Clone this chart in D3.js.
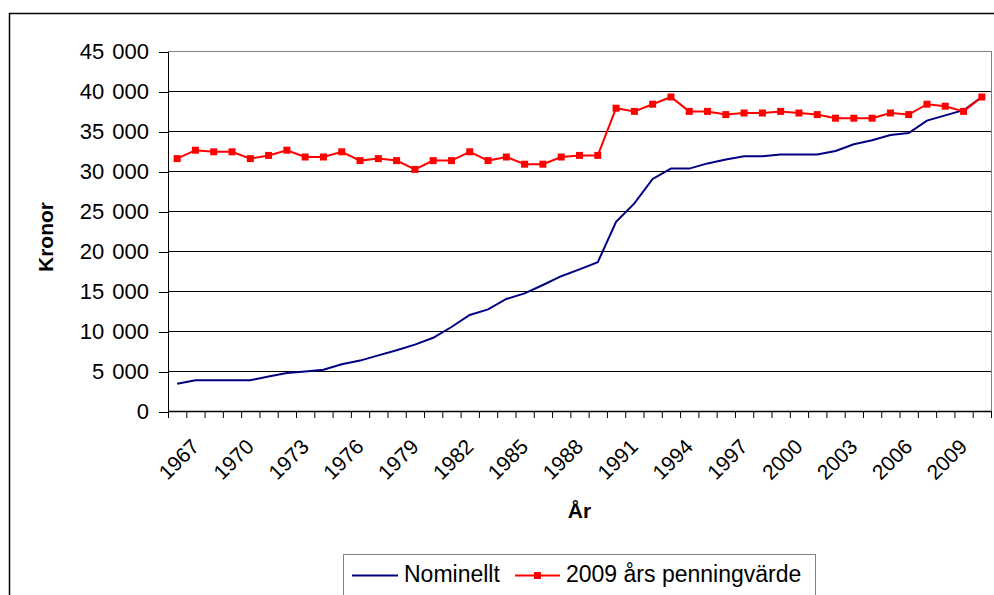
<!DOCTYPE html>
<html>
<head>
<meta charset="utf-8">
<script src="https://cdn.jsdelivr.net/npm/d3@7"></script>
<style>
  body { margin: 0; background: #fff; }
  text { font-family: "Liberation Sans", Arial, sans-serif; }
</style>
</head>
<body>
<script>
const years = d3.range(1966, 2011)
const nominellt = [3400, 3850, 3850, 3850, 3850, 4300, 4750, 4950, 5150, 5850,
  6300, 6950, 7600, 8300, 9150, 10500, 12000, 12700, 14000, 14700,
  15750, 16850, 17700, 18600, 23650, 25950, 29000, 30300, 30300, 30950,
  31450, 31850, 31850, 32050, 32050, 32050, 32500, 33350, 33850, 34500,
  34750, 36300, 36950, 37600, 39250]
const penningvarde = [31550, 32600, 32400, 32400, 31550, 31950, 32600, 31750, 31750, 32400,
  31300, 31550, 31300, 30200, 31300, 31300, 32400, 31300, 31750, 30850,
  30850, 31750, 31950, 31950, 37850, 37450, 38350, 39250, 37450, 37450,
  37050, 37250, 37250, 37450, 37250, 37050, 36600, 36600, 36600, 37250,
  37050, 38350, 38100, 37450, 39250]
const yTicks = d3.range(0, 45001, 5000)
const labelYears = years.filter(y => (y - 1967) % 3 === 0)
const seriesNames = ["Nominellt", "2009 års penningvärde"]

const svgWidth = 994
const svgHeight = 595
const plot = { left: 168, right: 991, top: 51, bottom: 411 }

const svg = d3.select("body").append("svg")
  .attr("width", svgWidth)
  .attr("height", svgHeight)

// outer chart frame
svg.append("rect")
  .attr("x", 9.5).attr("y", 13.5)
  .attr("width", svgWidth).attr("height", svgHeight)
  .attr("fill", "none").attr("stroke", "#000").attr("stroke-width", 1.5)

const x = d3.scaleBand().domain(years).range([plot.left, plot.right])
const xi = d3.scaleLinear().domain([0, years.length]).range([plot.left, plot.right])
const y = d3.scaleLinear().domain([0, 45000]).range([plot.bottom, plot.top])
const cx = d => x(d) + x.bandwidth() / 2

const sv = d3.formatLocale({ decimal: ",", thousands: " ", grouping: [3], currency: ["", ""] })
const fmt = sv.format(",d")

// gridlines
svg.append("g").selectAll("line")
  .data(yTicks.slice(1))
  .enter().append("line")
  .attr("x1", plot.left).attr("x2", plot.right)
  .attr("y1", d => y(d) + 0.5).attr("y2", d => y(d) + 0.5)
  .attr("stroke", d => d === 45000 ? "#808080" : "#000")
  .attr("stroke-width", 1)
  .attr("shape-rendering", "crispEdges")

// right frame of plot area
svg.append("line")
  .attr("x1", plot.right + 0.5).attr("x2", plot.right + 0.5)
  .attr("y1", plot.top).attr("y2", plot.bottom)
  .attr("stroke", "#808080")
  .attr("shape-rendering", "crispEdges")

// y axis
const yAxis = svg.append("g")
  .attr("transform", `translate(${plot.left},0.5)`)
  .call(d3.axisLeft(y).tickValues(yTicks).tickFormat(fmt).tickSize(9).tickPadding(10))
yAxis.select(".domain").attr("stroke", "#000")
yAxis.selectAll("line, path").attr("shape-rendering", "crispEdges")
yAxis.selectAll("text")
  .attr("font-size", 22)
  .attr("fill", "#000")
  .style("word-spacing", "2px")
  .style("font-family", "'Liberation Sans', Arial, sans-serif")

// x axis ticks at category boundaries
const xTickG = svg.append("g")
  .attr("transform", `translate(0,${plot.bottom})`)
  .call(d3.axisBottom(xi).tickValues(d3.range(0, years.length + 1)).tickFormat("").tickSize(7).tickSizeOuter(0))
xTickG.select(".domain").attr("stroke", "#000").attr("stroke-width", 1.5)

// x labels
const xLab = svg.append("g")
  .attr("transform", `translate(0,${plot.bottom})`)
  .call(d3.axisBottom(x).tickValues(labelYears).tickSize(0))
xLab.select(".domain").remove()
xLab.selectAll("text")
  .attr("font-size", 21)
  .attr("fill", "#000")
  .attr("text-anchor", "end")
  .attr("dy", null)
  .attr("y", 0)
  .attr("transform", "translate(5,37) rotate(-45)")
  .style("font-family", "'Liberation Sans', Arial, sans-serif")

// axis titles
svg.append("text")
  .attr("x", (plot.left + plot.right) / 2)
  .attr("y", 518)
  .attr("text-anchor", "middle")
  .attr("font-size", 21)
  .attr("font-weight", "bold")
  .text("År")

svg.append("text")
  .attr("transform", `translate(53,237) rotate(-90)`)
  .attr("text-anchor", "middle")
  .attr("font-size", 21)
  .attr("font-weight", "bold")
  .text("Kronor")

// lines
const line = d3.line()
  .x((d, i) => cx(years[i]))
  .y(d => y(d))

svg.append("path")
  .attr("d", line(nominellt))
  .attr("fill", "none")
  .attr("stroke", "#000080")
  .attr("stroke-width", 2)

svg.append("path")
  .attr("d", line(penningvarde))
  .attr("fill", "none")
  .attr("stroke", "#FF0000")
  .attr("stroke-width", 2)

svg.append("g").selectAll("rect")
  .data(penningvarde)
  .enter().append("rect")
  .attr("x", (d, i) => cx(years[i]) - 3.5)
  .attr("y", d => y(d) - 3.5)
  .attr("width", 7).attr("height", 7)
  .attr("fill", "#FF0000")

// legend
const legend = svg.append("g")
legend.append("rect")
  .attr("x", 343.5).attr("y", 554.5)
  .attr("width", 472).attr("height", 60)
  .attr("fill", "#fff").attr("stroke", "#808080")

legend.append("line")
  .attr("x1", 352).attr("x2", 398).attr("y1", 575.5).attr("y2", 575.5)
  .attr("stroke", "#000080").attr("stroke-width", 2)
legend.append("text")
  .attr("x", 404).attr("y", 582)
  .attr("font-size", 23)
  .text(seriesNames[0])

legend.append("line")
  .attr("x1", 515).attr("x2", 560).attr("y1", 575.5).attr("y2", 575.5)
  .attr("stroke", "#FF0000").attr("stroke-width", 2)
legend.append("rect")
  .attr("x", 534).attr("y", 572).attr("width", 7).attr("height", 7)
  .attr("fill", "#FF0000")
legend.append("text")
  .attr("x", 566).attr("y", 582)
  .attr("font-size", 23)
  .text(seriesNames[1])
</script>
</body>
</html>
